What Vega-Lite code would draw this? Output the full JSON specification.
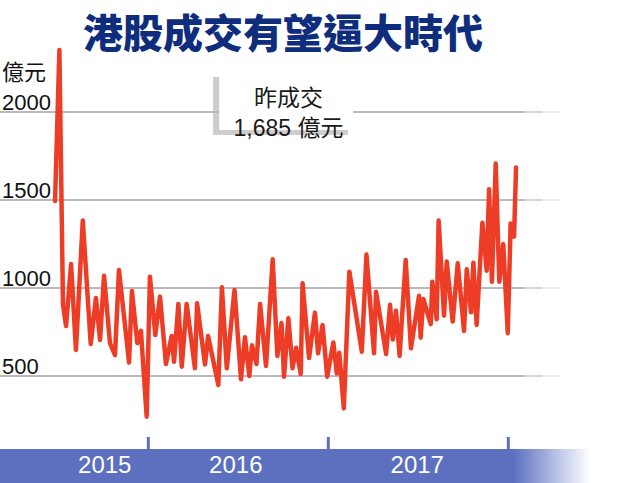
{
  "$schema": "https://vega.github.io/schema/vega-lite/v6.json",
  "width": 621,
  "height": 483,
  "autosize": {"type": "none"},
  "padding": 0,
  "background": "#ffffff",
  "config": {"view": {"stroke": null}, "axis": {"disable": true}},
  "layer": [
    {
      "data": {"values": [{"v": 500}, {"v": 1000}, {"v": 1500}, {"v": 2000}]},
      "layer": [
        {
          "mark": {"type": "rule", "strokeWidth": 1.5, "color": "#a2a2a8"},
          "encoding": {
            "y": {"field": "v", "type": "quantitative", "scale": {"domain": [-108, 2636.4], "nice": false, "zero": false}},
            "x": {"datum": 2015.1761, "type": "quantitative", "scale": {"domain": [2015.1761, 2018.6261], "nice": false, "zero": false}},
            "x2": {"datum": 2018.093}
          }
        },
        {
          "mark": {"type": "rule", "strokeWidth": 1.5, "color": "#cacace"},
          "encoding": {
            "y": {"field": "v", "type": "quantitative"},
            "x": {"datum": 2018.093, "type": "quantitative"},
            "x2": {"datum": 2018.187}
          }
        },
        {
          "mark": {"type": "rule", "strokeWidth": 1.5, "color": "#e8e8ea"},
          "encoding": {
            "y": {"field": "v", "type": "quantitative"},
            "x": {"datum": 2018.187, "type": "quantitative"},
            "x2": {"datum": 2018.287}
          }
        }
      ]
    },
    {
      "data": {"values": [{"part": "x-band"}]},
      "mark": {"type": "rect", "fill": {"gradient": "linear", "x1": 0, "y1": 0, "x2": 1, "y2": 0, "stops": [{"offset": 0, "color": "#5c70bf"}, {"offset": 0.871, "color": "#5c70bf"}, {"offset": 0.94, "color": "#b4bfe4"}, {"offset": 1, "color": "#ffffff"}]}},
      "encoding": {
        "x": {"datum": 2015.1761, "type": "quantitative"},
        "x2": {"datum": 2018.4539},
        "y": {"datum": 85.2, "type": "quantitative"},
        "y2": {"datum": -108}
      }
    },
    {
      "data": {"values": [{"t": 2016}, {"t": 2017}, {"t": 2018}]},
      "mark": {"type": "rule", "strokeWidth": 3, "color": "#5c70bf"},
      "encoding": {
        "x": {"field": "t", "type": "quantitative"},
        "y": {"datum": 153.4, "type": "quantitative"},
        "y2": {"datum": 85.2}
      }
    },
    {
      "data": {"values": [{"t": 2015.758, "year": "2015"}, {"t": 2016.486, "year": "2016"}, {"t": 2017.494, "year": "2017"}]},
      "mark": {"type": "text", "color": "#ffffff", "fontSize": 24, "font": "Liberation Sans", "align": "center", "baseline": "middle"},
      "encoding": {
        "x": {"field": "t", "type": "quantitative"},
        "y": {"datum": -11, "type": "quantitative"},
        "text": {"field": "year"}
      }
    },
    {
      "data": {"values": [
        {"t": 2015.482, "v": 1494}, {"t": 2015.506, "v": 2352}, {"t": 2015.526, "v": 905}, {"t": 2015.543, "v": 784},
        {"t": 2015.571, "v": 1136}, {"t": 2015.598, "v": 648}, {"t": 2015.636, "v": 1383}, {"t": 2015.680, "v": 682},
        {"t": 2015.709, "v": 943}, {"t": 2015.732, "v": 705}, {"t": 2015.754, "v": 1070}, {"t": 2015.787, "v": 687},
        {"t": 2015.815, "v": 619}, {"t": 2015.837, "v": 1102}, {"t": 2015.893, "v": 576}, {"t": 2015.909, "v": 983},
        {"t": 2015.939, "v": 687}, {"t": 2015.959, "v": 757}, {"t": 2015.991, "v": 269}, {"t": 2016.009, "v": 1064},
        {"t": 2016.039, "v": 733}, {"t": 2016.065, "v": 951}, {"t": 2016.098, "v": 568}, {"t": 2016.130, "v": 727},
        {"t": 2016.143, "v": 581}, {"t": 2016.167, "v": 909}, {"t": 2016.186, "v": 553}, {"t": 2016.213, "v": 909},
        {"t": 2016.259, "v": 544}, {"t": 2016.271, "v": 913}, {"t": 2016.315, "v": 566}, {"t": 2016.332, "v": 727},
        {"t": 2016.389, "v": 449}, {"t": 2016.409, "v": 1004}, {"t": 2016.436, "v": 544}, {"t": 2016.479, "v": 989},
        {"t": 2016.515, "v": 481}, {"t": 2016.537, "v": 720}, {"t": 2016.561, "v": 500}, {"t": 2016.576, "v": 674},
        {"t": 2016.601, "v": 568}, {"t": 2016.621, "v": 909}, {"t": 2016.654, "v": 557}, {"t": 2016.691, "v": 1163},
        {"t": 2016.717, "v": 614}, {"t": 2016.740, "v": 801}, {"t": 2016.754, "v": 496}, {"t": 2016.778, "v": 828},
        {"t": 2016.801, "v": 544}, {"t": 2016.821, "v": 660}, {"t": 2016.847, "v": 511}, {"t": 2016.857, "v": 1027},
        {"t": 2016.893, "v": 602}, {"t": 2016.926, "v": 860}, {"t": 2016.943, "v": 629}, {"t": 2016.968, "v": 790},
        {"t": 2016.994, "v": 496}, {"t": 2017.028, "v": 690}, {"t": 2017.047, "v": 515}, {"t": 2017.061, "v": 632},
        {"t": 2017.086, "v": 316}, {"t": 2017.117, "v": 1093}, {"t": 2017.186, "v": 638}, {"t": 2017.212, "v": 1190},
        {"t": 2017.254, "v": 629}, {"t": 2017.265, "v": 979}, {"t": 2017.321, "v": 625}, {"t": 2017.343, "v": 905},
        {"t": 2017.358, "v": 708}, {"t": 2017.376, "v": 871}, {"t": 2017.396, "v": 614}, {"t": 2017.430, "v": 1159},
        {"t": 2017.459, "v": 657}, {"t": 2017.504, "v": 956}, {"t": 2017.513, "v": 718}, {"t": 2017.528, "v": 938},
        {"t": 2017.569, "v": 795}, {"t": 2017.578, "v": 1036}, {"t": 2017.602, "v": 822}, {"t": 2017.613, "v": 1383},
        {"t": 2017.643, "v": 843}, {"t": 2017.658, "v": 1150}, {"t": 2017.691, "v": 809}, {"t": 2017.719, "v": 1140},
        {"t": 2017.754, "v": 756}, {"t": 2017.769, "v": 1106}, {"t": 2017.793, "v": 862}, {"t": 2017.806, "v": 1144},
        {"t": 2017.824, "v": 790}, {"t": 2017.856, "v": 1371}, {"t": 2017.880, "v": 1098}, {"t": 2017.893, "v": 1561},
        {"t": 2017.909, "v": 1036}, {"t": 2017.930, "v": 1708}, {"t": 2017.950, "v": 1036}, {"t": 2017.972, "v": 1250},
        {"t": 2017.997, "v": 743}, {"t": 2018.013, "v": 1367}, {"t": 2018.032, "v": 1292}, {"t": 2018.043, "v": 1685}
      ]},
      "mark": {"type": "line", "color": "#ee3d26", "strokeWidth": 4.5, "strokeJoin": "round", "strokeCap": "round"},
      "encoding": {
        "x": {"field": "t", "type": "quantitative"},
        "y": {"field": "v", "type": "quantitative"}
      }
    },
    {
      "data": {"values": [{"part": "note-shadow"}]},
      "mark": {"type": "rect", "color": "#bcbcbc", "opacity": 0.75},
      "encoding": {
        "x": {"datum": 2016.360, "type": "quantitative"},
        "x2": {"datum": 2017.109},
        "y": {"datum": 2199, "type": "quantitative"},
        "y2": {"datum": 1869}
      }
    },
    {
      "data": {"values": [{"part": "note-box"}]},
      "mark": {"type": "rect", "color": "#ffffff", "opacity": 1},
      "encoding": {
        "x": {"datum": 2016.394, "type": "quantitative"},
        "x2": {"datum": 2017.137},
        "y": {"datum": 2227, "type": "quantitative"},
        "y2": {"datum": 1898}
      }
    },
    {
      "data": {"values": [{"note": "昨成交\n1,685 億元"}]},
      "mark": {"type": "text", "lineBreak": "\n", "lineHeight": 30, "fontSize": 23, "font": "Liberation Sans, Noto Sans CJK TC", "color": "#1a1a1a", "align": "center", "baseline": "middle"},
      "encoding": {
        "x": {"datum": 2016.779, "type": "quantitative"},
        "y": {"datum": 2074, "type": "quantitative"},
        "text": {"field": "note"}
      }
    },
    {
      "data": {"values": [{"v": 500, "label": "500"}, {"v": 1000, "label": "1000"}, {"v": 1500, "label": "1500"}, {"v": 2000, "label": "2000"}]},
      "mark": {"type": "text", "fontSize": 22, "font": "Liberation Sans", "color": "#111111", "align": "left", "baseline": "alphabetic", "dy": -2},
      "encoding": {
        "x": {"datum": 2015.1872, "type": "quantitative"},
        "y": {"field": "v", "type": "quantitative"},
        "text": {"field": "label"}
      }
    },
    {
      "data": {"values": [{"unit": "億元"}]},
      "mark": {"type": "text", "fontSize": 22, "font": "Noto Sans CJK TC", "color": "#111111", "align": "left", "baseline": "middle"},
      "encoding": {
        "x": {"datum": 2015.1872, "type": "quantitative"},
        "y": {"datum": 2224, "type": "quantitative"},
        "text": {"field": "unit"}
      }
    },
    {
      "data": {"values": [{"title": "港股成交有望逼大時代"}]},
      "mark": {"type": "text", "fontSize": 40, "fontWeight": 900, "font": "Noto Sans CJK TC", "color": "#0f2d7d", "align": "center", "baseline": "middle"},
      "encoding": {
        "x": {"datum": 2016.748, "type": "quantitative"},
        "y": {"datum": 2432, "type": "quantitative"},
        "text": {"field": "title"}
      }
    }
  ]
}
